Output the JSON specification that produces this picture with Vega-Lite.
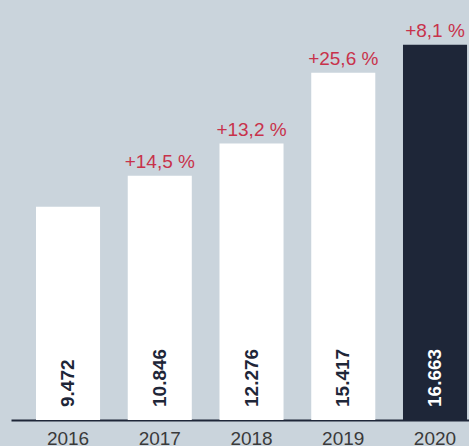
{
  "$schema": "https://vega.github.io/schema/vega-lite/v6.json",
  "width": 458,
  "height": 420,
  "autosize": {"type": "none"},
  "padding": {"left": 11, "top": 0, "right": 0, "bottom": 26},
  "background": "#cad4dc",
  "config": {
    "view": {"stroke": null},
    "font": "Liberation Sans"
  },
  "data": {
    "values": [
      {"year": "2016", "value": 9472, "label": "9.472", "growth": ""},
      {"year": "2017", "value": 10846, "label": "10.846", "growth": "+14,5 %"},
      {"year": "2018", "value": 12276, "label": "12.276", "growth": "+13,2 %"},
      {"year": "2019", "value": 15417, "label": "15.417", "growth": "+25,6 %"},
      {"year": "2020", "value": 16663, "label": "16.663", "growth": "+8,1 %"}
    ]
  },
  "encoding": {
    "x": {
      "field": "year",
      "type": "ordinal",
      "scale": {"paddingInner": 0.302, "paddingOuter": 0.147, "align": 0.927},
      "axis": {
        "title": null,
        "ticks": false,
        "domainColor": "#1e2638",
        "domainWidth": 2,
        "labelAngle": 0,
        "labelFontSize": 19,
        "labelColor": "#3a3a3a",
        "labelPadding": 9,
        "labelFont": "Liberation Sans"
      }
    }
  },
  "layer": [
    {
      "mark": {"type": "bar"},
      "encoding": {
        "y": {
          "field": "value",
          "type": "quantitative",
          "scale": {"domain": [0, 18650], "nice": false},
          "axis": null
        },
        "color": {
          "condition": {"test": "datum.year === '2020'", "value": "#1e2638"},
          "value": "#ffffff"
        }
      }
    },
    {
      "mark": {
        "type": "text",
        "angle": 270,
        "align": "left",
        "baseline": "middle",
        "fontWeight": "bold",
        "fontSize": 19,
        "yOffset": -13
      },
      "encoding": {
        "y": {"datum": 0, "type": "quantitative"},
        "text": {"field": "label"},
        "color": {
          "condition": {"test": "datum.year === '2020'", "value": "#ffffff"},
          "value": "#1e2638"
        }
      }
    },
    {
      "transform": [{"filter": "datum.growth !== ''"}],
      "mark": {
        "type": "text",
        "align": "center",
        "baseline": "alphabetic",
        "fontSize": 19,
        "dy": -8,
        "color": "#c8324b"
      },
      "encoding": {
        "y": {"field": "value", "type": "quantitative"},
        "text": {"field": "growth"}
      }
    }
  ]
}
